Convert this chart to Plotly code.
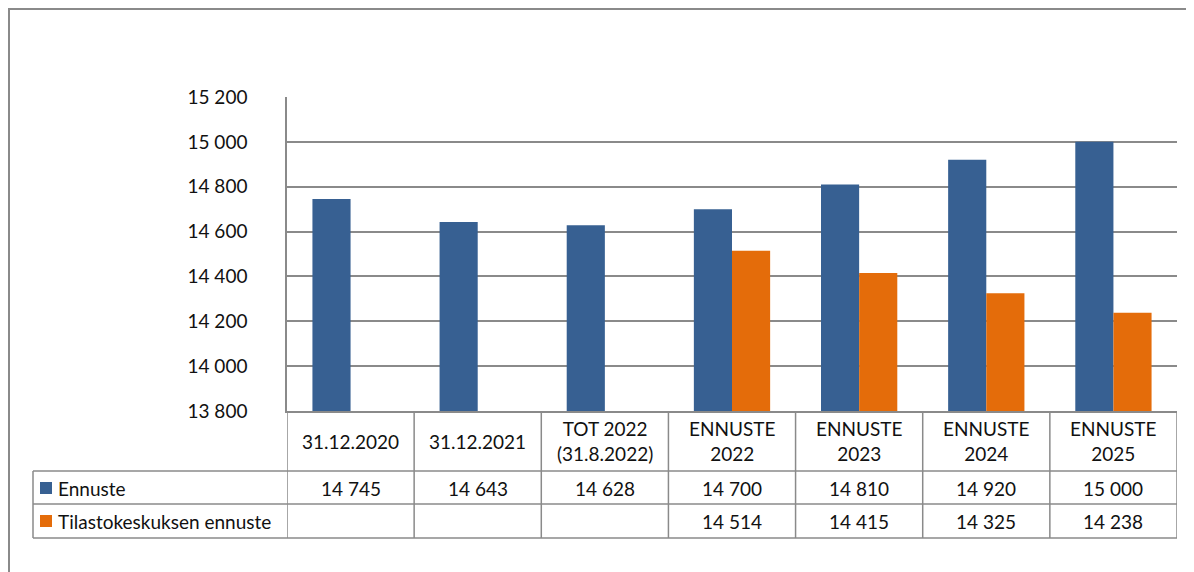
import plotly.graph_objects as go

categories = ["31.12.2020", "31.12.2021", "TOT 2022<br>(31.8.2022)", "ENNUSTE<br>2022",
              "ENNUSTE<br>2023", "ENNUSTE<br>2024", "ENNUSTE<br>2025"]
series_names = ["Ennuste", "Tilastokeskuksen ennuste"]
ennuste = [14745, 14643, 14628, 14700, 14810, 14920, 15000]
tilasto = [None, None, None, 14514, 14415, 14325, 14238]
y_ticks = [13800, 14000, 14200, 14400, 14600, 14800, 15000, 15200]

BLUE = "#376092"
ORANGE = "#E46C0A"
GRID = "#8a8a8a"
FONT = "Lato"
FS = 19
TXT = "#111111"

# page body margin offset
OFF = 8
WIN_W, WIN_H = 1194, 572
W, H = WIN_W - OFF, WIN_H - OFF
# plot area in window pixels
L, R, T, B = 287, 1177, 97, 411


def px(x):
    return (x - L) / (R - L)


def py(y):
    return (B - y) / (B - T)


def fmt(v):
    return "" if v is None else f"{v:,}".replace(",", " ")


fig = go.Figure()
fig.add_trace(go.Bar(x=categories, y=ennuste, name=series_names[0], marker_color=BLUE,
                     marker_line_width=0))
fig.add_trace(go.Bar(x=categories, y=tilasto, name=series_names[1], marker_color=ORANGE,
                     marker_line_width=0))

shapes = []
annotations = []
line = dict(color=GRID, width=1.5)

# outer frame
shapes.append(dict(type="line", xref="paper", yref="paper", x0=px(9), x1=px(9), y0=py(9), y1=py(600), line=dict(color=GRID, width=2)))
shapes.append(dict(type="line", xref="paper", yref="paper", x0=px(8), x1=px(1220), y0=py(9), y1=py(9), line=dict(color=GRID, width=2)))

# table horizontal lines
for yy in (471, 504, 538):
    shapes.append(dict(type="line", xref="paper", yref="paper", x0=px(33), x1=1, y0=py(yy), y1=py(yy), line=line))
# table vertical lines at column boundaries
for i in range(len(categories) + 1):
    shapes.append(dict(type="line", xref="x", yref="paper", x0=i - 0.5, x1=i - 0.5, y0=0, y1=py(538), line=line))
shapes.append(dict(type="line", xref="paper", yref="paper", x0=px(33), x1=px(33), y0=py(471), y1=py(538), line=line))

# legend keys
for color, yc in ((BLUE, 488), (ORANGE, 521)):
    shapes.append(dict(type="rect", xref="paper", yref="paper", x0=px(40), x1=px(52),
                       y0=py(yc - 6), y1=py(yc + 6), fillcolor=color, line=dict(width=0)))
for name, yc in zip(series_names, (488, 521)):
    annotations.append(dict(text=name, xref="paper", yref="paper", x=px(56), y=py(yc),
                            xanchor="left", yanchor="middle", showarrow=False,
                            font=dict(family=FONT, size=FS, color=TXT)))

# category labels
for i, c in enumerate(categories):
    annotations.append(dict(text=c, xref="x", yref="paper", x=i, y=py(441),
                            xanchor="center", yanchor="middle", showarrow=False,
                            font=dict(family=FONT, size=FS, color=TXT)))
# values
for i in range(len(categories)):
    for vals, yc in ((ennuste, 488), (tilasto, 521)):
        if vals[i] is not None:
            annotations.append(dict(text=fmt(vals[i]), xref="x", yref="paper", x=i, y=py(yc),
                                    xanchor="center", yanchor="middle", showarrow=False,
                                    font=dict(family=FONT, size=FS, color=TXT)))

fig.update_layout(
    width=W, height=H, autosize=False,
    margin=dict(l=L - OFF, r=WIN_W - R, t=T - OFF, b=WIN_H - B, pad=0),
    paper_bgcolor="white", plot_bgcolor="white",
    barmode="group", bargap=0.40, bargroupgap=0,
    showlegend=False,
    separators=", ",
    shapes=shapes, annotations=annotations,
    font=dict(family=FONT, size=FS, color=TXT),
    xaxis=dict(range=[-0.5, len(categories) - 0.5], showticklabels=False, showgrid=False,
               showline=True, linecolor=GRID, linewidth=1.5, ticks="", zeroline=False),
    yaxis=dict(range=[y_ticks[0], y_ticks[-1]], tickvals=y_ticks,
               ticktext=[fmt(v) for v in y_ticks],
               showgrid=True, gridcolor=GRID, gridwidth=1.5,
               showline=True, linecolor=GRID, linewidth=1.5, zeroline=False,
               ticks="", ticklabelstandoff=34,
               tickfont=dict(family=FONT, size=FS, color=TXT)),
)

fig.write_html("out.html")
